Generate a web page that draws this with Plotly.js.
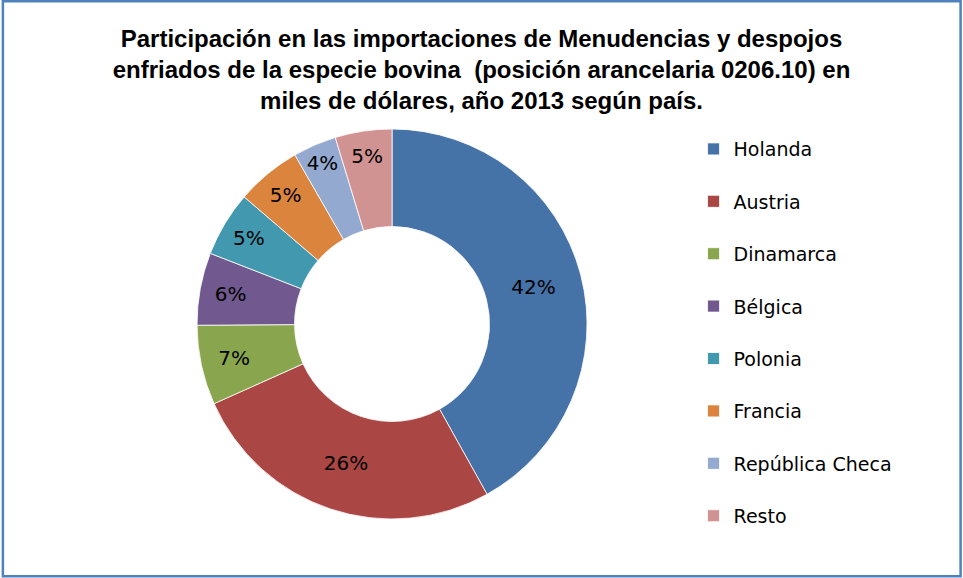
<!DOCTYPE html>
<html>
<head>
<meta charset="utf-8">
<script src="https://cdn.plot.ly/plotly-3.0.1.min.js"></script>
<style>html,body{margin:0;padding:0;background:#fff;}#chart{width:963px;height:578px;}</style>
</head>
<body>
<div id="chart"></div>
<script>
var categories = ["Holanda", "Austria", "Dinamarca", "Bélgica", "Polonia", "Francia", "República Checa", "Resto"];
var shares = [41.9, 26.4, 6.6, 6.0, 5.4, 5.4, 3.6, 4.7];
var colors = ["#4572A7", "#AA4643", "#89A54E", "#71588F", "#4198AF", "#DB843D", "#93A9CF", "#D19392"];
var titleLines = [
  "Participación en las importaciones de Menudencias y despojos",
  "enfriados de la especie bovina  (posición arancelaria 0206.10) en",
  "miles de dólares, año 2013 según país."
];

var trace = {
  type: "pie",
  labels: categories.map(function (c) { return c + "<br>&nbsp;"; }),
  values: shares,
  hole: 0.5,
  sort: false,
  direction: "clockwise",
  rotation: 0,
  marker: { colors: colors, line: { color: "#ffffff", width: 0.8 } },
  textinfo: "percent",
  texttemplate: "%{percent:.0%}",
  textposition: "inside",
  insidetextorientation: "horizontal",
  insidetextfont: { family: "DejaVu Sans, sans-serif", size: 20, color: "#000000" },
  hoverinfo: "label+percent",
  domain: { x: [0.2046, 0.6096], y: [0.1021, 0.7768] }
};

var layout = {
  width: 963,
  height: 578,
  margin: { l: 0, r: 0, t: 0, b: 0 },
  paper_bgcolor: "#ffffff",
  font: { family: "DejaVu Sans, sans-serif", color: "#000000" },
  title: {
    text: "<b>" + titleLines.join("<br>") + "</b>",
    font: { family: "Liberation Sans, Arial, sans-serif", size: 24, color: "#000000" },
    x: 0.5, xanchor: "center", xref: "paper",
    y: 0.9187, yanchor: "top", yref: "paper"
  },
  showlegend: true,
  legend: {
    x: 0.7202, xanchor: "left",
    y: 0.775, yanchor: "top",
    valign: "top",
    font: { family: "DejaVu Sans, sans-serif", size: 19, color: "#000000" },
    bgcolor: "rgba(0,0,0,0)"
  },
  shapes: [{
    type: "rect", xref: "paper", yref: "paper",
    x0: 0.003, x1: 0.9975, y0: 0.003, y1: 0.998,
    line: { color: "#4F81BD", width: 2.5 }
  }]
};

Plotly.newPlot("chart", [trace], layout, { displayModeBar: false, staticPlot: true });
</script>
</body>
</html>
